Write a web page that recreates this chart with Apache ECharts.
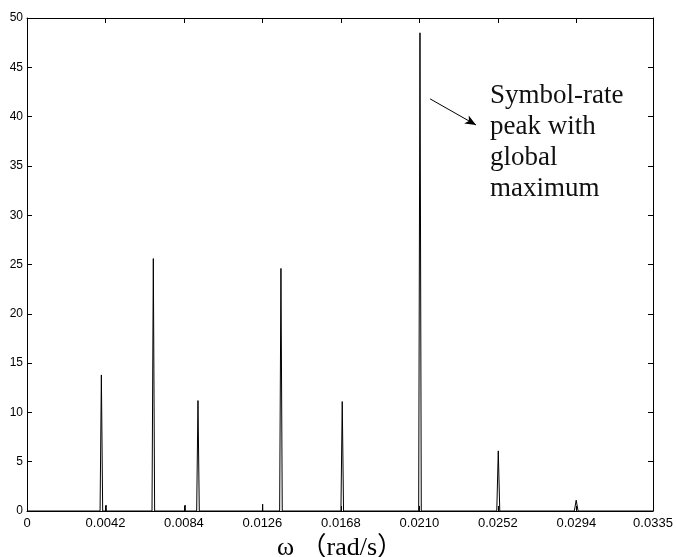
<!DOCTYPE html>
<html>
<head>
<meta charset="utf-8">
<script src="https://cdn.jsdelivr.net/npm/echarts@6/dist/echarts.min.js"></script>
<style>html,body{margin:0;padding:0;background:#fff}#c{width:676px;height:557px}</style>
</head>
<body>
<div id="c"></div>
<script>
// Peak centres (rad/s), heights and half base widths
const peakOmega = [0.00398, 0.00423, 0.00676, 0.00846, 0.00915, 0.01261, 0.01359, 0.01687, 0.02103, 0.02522, 0.02939];
const peakHeight = [13.8, 0.6, 25.6, 0.6, 11.2, 0.7, 24.6, 11.1, 48.5, 6.1, 1.1];
const peakHalfWidth = [0.00007, 0.00001, 0.00007, 0.00001, 0.00007, 0.00001, 0.00007, 0.00007, 0.00007, 0.00008, 0.0001];
const xTickInterval = 0.0042;
const xMin = 0, xMax = 0.0335;
const yMin = 0, yMax = 50, yTickInterval = 5;
const annotationText = ['Symbol-rate', 'peak with', 'global', 'maximum'];
const arrowFrom = [0.02157, 41.8];
const arrowTo = [0.02403, 39.15];
const xAxisName = 'ω （rad/s）';

const lineData = [[xMin, 0]];
for (let i = 0; i < peakOmega.length; i++) {
  lineData.push([peakOmega[i] - peakHalfWidth[i], 0]);
  lineData.push([peakOmega[i], peakHeight[i]]);
  lineData.push([peakOmega[i] + peakHalfWidth[i], 0]);
}
lineData.push([xMax, 0]);

const chart = echarts.init(document.getElementById('c'), null, {renderer: 'canvas'});
const axisLine = {show: true, onZero: false, lineStyle: {color: '#000', width: 1}};
const tick = {show: true, inside: true, length: 5, lineStyle: {color: '#000', width: 1}};
chart.setOption({
  animation: false,
  backgroundColor: '#fff',
  grid: {left: 27, right: 23, top: 18, bottom: 46, containLabel: false, outerBoundsMode: 'none'},
  xAxis: [{
    type: 'value', min: xMin, max: xMax, interval: xTickInterval, position: 'bottom',
    axisLine: axisLine, axisTick: tick, splitLine: {show: false},
    axisLabel: {color: '#000', fontSize: 13, fontFamily: 'Liberation Sans, Arial', margin: 6,
      showMaxLabel: true, showMinLabel: true, hideOverlap: false,
      formatter: v => v === 0 ? '0' : v.toFixed(4)},
    name: xAxisName, nameLocation: 'middle', nameGap: 21,
    nameTextStyle: {color: '#000', fontSize: 26, fontFamily: 'Liberation Serif, Noto Sans CJK SC'}
  }, {
    type: 'value', min: xMin, max: xMax, interval: xTickInterval, position: 'top',
    axisLine: axisLine, axisTick: tick, axisLabel: {show: false}, splitLine: {show: false}
  }],
  yAxis: [{
    type: 'value', min: yMin, max: yMax, interval: yTickInterval, position: 'left',
    axisLine: axisLine, axisTick: tick, splitLine: {show: false},
    axisLabel: {color: '#000', fontSize: 12, fontFamily: 'Liberation Sans, Arial', margin: 4}
  }, {
    type: 'value', min: yMin, max: yMax, interval: yTickInterval, position: 'right',
    axisLine: axisLine, axisTick: tick, axisLabel: {show: false}, splitLine: {show: false}
  }],
  series: [{
    type: 'line', xAxisIndex: 0, yAxisIndex: 0, data: lineData,
    showSymbol: false, symbol: 'none',
    lineStyle: {color: '#000', width: 1},
    markLine: {
      silent: true, symbol: ['none', 'arrow'], symbolSize: [7, 11],
      lineStyle: {color: '#000', width: 1, type: 'solid'},
      label: {show: false},
      data: [[{coord: arrowFrom}, {coord: arrowTo}]]
    }
  }],
  graphic: [{
    type: 'text', left: 490, top: 80,
    style: {text: annotationText.join('\n'), fill: '#111', font: '27px "Liberation Serif", "Times New Roman", serif', lineHeight: 31}
  }]
});
</script>
</body>
</html>
